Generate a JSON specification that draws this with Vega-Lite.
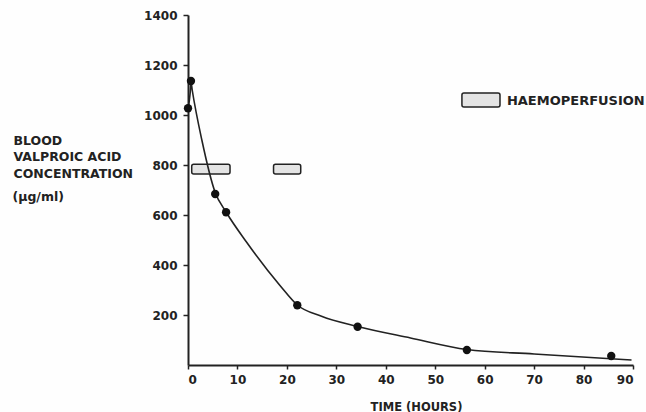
{
  "$schema": "https://vega.github.io/schema/vega-lite/v6.json",
  "width": 445,
  "height": 350,
  "autosize": {"type": "none"},
  "padding": {"left": 188, "top": 15, "right": 13, "bottom": 47},
  "background": "#fefefe",
  "config": {
    "view": {"stroke": null},
    "font": "DejaVu Sans",
    "axis": {
      "grid": false,
      "domainColor": "#222222",
      "domainWidth": 2,
      "tickColor": "#222222",
      "tickWidth": 1.5,
      "tickSize": 5,
      "labelFont": "DejaVu Sans",
      "labelFontWeight": "bold",
      "labelFontSize": 12,
      "labelColor": "#222222",
      "titleFont": "DejaVu Sans",
      "titleFontWeight": "bold",
      "titleFontSize": 11.5,
      "titleColor": "#222222"
    }
  },
  "datasets": {
    "points": [
      {"time": 0, "conc": 1027},
      {"time": 0.6, "conc": 1136},
      {"time": 5.5, "conc": 684},
      {"time": 7.7, "conc": 611},
      {"time": 22.1, "conc": 239},
      {"time": 34.3, "conc": 153},
      {"time": 56.4, "conc": 60},
      {"time": 85.6, "conc": 36}
    ],
    "curve": [
      {"time": 0, "conc": 1027},
      {"time": 0.45, "conc": 1090},
      {"time": 0.6, "conc": 1132},
      {"time": 0.85, "conc": 1100},
      {"time": 2.8, "conc": 900},
      {"time": 5.5, "conc": 690},
      {"time": 7.7, "conc": 612},
      {"time": 11.9, "conc": 490},
      {"time": 18.6, "conc": 318},
      {"time": 22.1, "conc": 240},
      {"time": 27, "conc": 195},
      {"time": 34.3, "conc": 154},
      {"time": 45, "conc": 108},
      {"time": 56.4, "conc": 62},
      {"time": 70, "conc": 44},
      {"time": 89.7, "conc": 20}
    ],
    "boxes": [
      {"start": 0.75, "end": 8.5, "low": 764, "high": 803},
      {"start": 17.3, "end": 22.8, "low": 764, "high": 803},
      {"start": 55.4, "end": 63.1, "low": 1032, "high": 1088}
    ],
    "labels": [
      {"time": 64.5, "conc": 1040, "label": "HAEMOPERFUSION", "size": 13},
      {"time": -35.5, "conc": 656, "label": "(μg/ml)", "size": 12.5}
    ]
  },
  "layer": [
    {
      "data": {"name": "boxes"},
      "mark": {"type": "rect", "fill": "#e4e4e4", "stroke": "#222222", "strokeWidth": 1.5, "cornerRadius": 2},
      "encoding": {
        "x": {
          "field": "start", "type": "quantitative",
          "scale": {"domain": [0, 90], "nice": false},
          "axis": {
            "values": [0, 10, 20, 30, 40, 50, 60, 70, 80, 90],
            "format": "d",
            "tickSize": 4,
            "labelPadding": 5,
            "title": "TIME (HOURS)",
            "titleX": 228,
            "titleY": 45,
            "titleBaseline": "alphabetic",
            "titleAlign": "center"
          }
        },
        "x2": {"field": "end"},
        "y": {
          "field": "low", "type": "quantitative",
          "scale": {"domain": [0, 1400], "nice": false},
          "axis": {
            "values": [200, 400, 600, 800, 1000, 1200, 1400],
            "format": "d",
            "tickSize": 5,
            "labelPadding": 6,
            "title": ["BLOOD", "VALPROIC ACID", "CONCENTRATION"],
            "titleAngle": 0,
            "titleAlign": "left",
            "titleBaseline": "alphabetic",
            "titleFontSize": 12.5,
            "titleLineHeight": 16.5,
            "titleX": -175,
            "titleY": 129
          }
        },
        "y2": {"field": "high"}
      }
    },
    {
      "data": {"name": "curve"},
      "mark": {"type": "line", "interpolate": "monotone", "color": "#222222", "strokeWidth": 1.6},
      "encoding": {
        "x": {"field": "time", "type": "quantitative"},
        "y": {"field": "conc", "type": "quantitative"}
      }
    },
    {
      "data": {"name": "points"},
      "mark": {"type": "circle", "size": 70, "color": "#111111", "opacity": 1},
      "encoding": {
        "x": {"field": "time", "type": "quantitative"},
        "y": {"field": "conc", "type": "quantitative"}
      }
    },
    {
      "data": {"name": "labels"},
      "mark": {"type": "text", "align": "left", "baseline": "alphabetic", "font": "DejaVu Sans", "fontWeight": "bold", "color": "#222222"},
      "encoding": {
        "x": {"field": "time", "type": "quantitative"},
        "y": {"field": "conc", "type": "quantitative"},
        "text": {"field": "label"},
        "size": {"field": "size", "type": "quantitative", "scale": null}
      }
    }
  ]
}
